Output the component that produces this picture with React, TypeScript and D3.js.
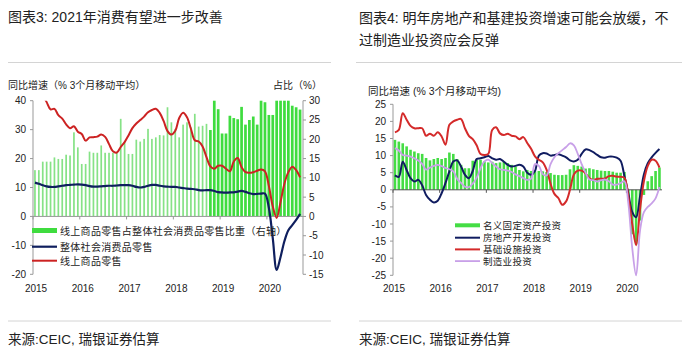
import React from "react";
import * as d3 from "d3";

// months Jan 2015 .. Sep 2020
const months = d3.timeMonth.range(new Date(2015, 0, 1), new Date(2020, 9, 1));
const yearLabels = ["2015", "2016", "2017", "2018", "2019", "2020"];

// chart 3: online share of total retail (%, right axis)
const onlineShare = [
  12.0, 12.0, 14.2, 14.2, 14.2, 15.3, 14.9, 14.9, 16.0, 15.8, 21.8, 17.9,
  13.6, 13.6, 16.8, 16.5, 16.5, 18.4, 16.5, 16.5, 16.5, 16.5, 25.3, 19.2,
  16.2, 16.2, 19.9, 19.4, 20.1, 22.7, 20.1, 20.5, 21.1, 21.0, 28.3, 24.4,
  22.7, 20.5, 23.8, 24.4, 23.1, 26.6, 23.3, 23.5, 24.0, 22.4, 30.0, 27.8,
  21.5, 21.5, 26.1, 25.5, 25.2, 28.4, 23.8, 25.0, 25.9, 23.8, 30.0, 29.6,
  26.3, 26.3, 30.0, 30.0, 30.0, 30.0, 28.7, 28.3, 27.7,
];
// total retail sales yoy, 3mma
const totalRetail = [
  11.7, 11.3, 10.8, 10.4, 10.2, 10.2, 10.4, 10.6, 10.8, 10.9, 11.0, 11.1,
  11.0, 10.8, 10.5, 10.3, 10.3, 10.4, 10.5, 10.6, 10.6, 10.7, 10.8, 10.8,
  10.8, 10.6, 10.2, 10.0, 10.2, 10.6, 10.9, 10.9, 10.6, 10.4, 10.3, 10.2,
  10.2, 10.0, 9.8, 9.6, 9.5, 9.4, 9.1, 9.0, 9.1, 9.1, 8.8, 8.4,
  8.3, 8.2, 8.3, 8.3, 8.6, 8.8, 8.5, 8.0, 7.7, 7.8, 7.9, 7.9,
  3.0, -7.5, -18.5, -14.0, -8.5, -4.8, -3.0, -1.2, 0.9,
];
// online retail yoy, 3mma
const onlineRetail = [
  48, 45, 42, 39.5, 37, 37.2, 35, 33.8, 31.8, 30.5, 31.2, 29.3,
  28.5, 26.2, 27.3, 27.4, 27.6, 28.3, 27.5, 25.0, 22.5, 22.1, 24.0, 25.7,
  28.0, 30.5, 32.1, 33.3, 34.5, 36.0, 36.8, 37.2, 35.8, 33.0, 29.5, 28.3,
  29.6, 34.0, 35.8, 34.3, 30.3, 26.3, 25.9, 24.2, 20.5, 17.3, 16.5, 17.5,
  17.5, 16.5, 15.6, 19.0, 20.2, 17.0, 15.3, 15.1, 15.3, 15.8, 16.2, 15.6,
  10.5, 3.5, -0.5, 5.0, 11.4, 15.3, 17.2, 16.0, 13.5,
];

// chart 4: investment yoy, 3mma
const faiNominal = [
  14.6, 14.1, 13.6, 12.7, 11.7, 11.2, 10.7, 10.5, 9.3, 8.6, 9.0, 9.3,
  9.0, 9.3, 10.9, 10.5, 9.0, 7.3, 6.3, 6.3, 8.5, 8.8, 8.8, 8.3,
  8.0, 8.2, 7.8, 8.0, 8.3, 7.8, 7.3, 6.8, 5.8, 5.4, 5.8, 5.5,
  5.4, 5.5, 5.4, 5.2, 4.9, 4.4, 4.3, 4.3, 4.4, 6.0, 7.2, 7.0,
  6.8, 6.2, 6.3, 6.0, 5.8, 5.6, 5.5, 5.5, 5.3, 5.0, 5.0, 5.2,
  -3, -13, -16, -9, -1.5, 2.5, 4.0, 5.5, 6.5,
];
const realEstate = [
  4.2, 3.8, 8.2, 5.8, 3.4, 2.4, 2.9, 1.3, -1.5, -2.9, -3.7, -3.2,
  -1.0, 2.0, 5.4, 8.3, 8.6, 6.8, 4.4, 3.4, 5.5, 9.0, 9.2, 9.5,
  9.9, 9.2, 8.8, 9.0, 8.2, 7.3, 6.8, 7.0, 7.3, 6.8, 5.0, 4.4,
  5.5, 10.0, 10.7, 10.6, 10.0, 10.2, 10.4, 10.0, 9.5, 8.6, 8.3, 8.8,
  10.5, 11.8, 11.6, 11.0, 10.2, 9.5, 9.4, 9.7, 9.7, 9.4, 8.5, 4.0,
  -1.0, -6.5, -8.0, -2.0, 4.5, 7.8, 9.5, 10.8, 11.9,
];
const infrastructure = [
  16.8, 17.5, 22.4, 20.5, 18.7, 18.0, 18.0, 18.0, 15.8, 16.4, 15.8, 16.8,
  15.6, 13.2, 19.0, 20.0, 20.5, 20.7, 18.0, 15.8, 14.8, 13.0, 10.5, 10.2,
  10.5, 17.5, 18.3, 16.5, 16.0, 16.4, 15.8, 15.6, 14.8, 15.4, 13.7, 12.0,
  9.8, 8.8, 8.0, 5.8, 1.8, -1.2, -2.4, -4.4, -3.4, 0.0, 4.5, 5.6,
  5.6, 4.8, 3.4, 2.9, 3.2, 3.2, 3.3, 4.0, 4.1, 3.8, 3.8, 3.5,
  -2.0, -10.0, -16.2, -5.8, 2.5, 7.0, 8.8, 8.5, 6.5,
];
const manufacturing = [
  12.2, 11.5, 10.2, 10.0, 9.7, 9.2, 8.6, 7.6, 5.9, 6.5, 7.0, 7.3,
  6.9, 6.4, 6.0, 5.4, 3.2, 2.0, 0.9, 0.8, 1.8, 3.5, 6.3, 8.3,
  8.8, 7.8, 6.8, 6.0, 5.8, 5.6, 5.2, 4.5, 4.0, 3.4, 2.9, 3.3,
  7.5, 7.0, 4.6, 4.2, 7.5, 9.5, 10.7, 11.6, 12.5, 13.6, 13.0, 10.5,
  7.5, 5.0, 3.0, 2.8, 2.4, 2.8, 3.0, 2.5, 1.5, 1.5, 2.0, 2.5,
  -4, -17, -25, -12, -6.5, -5, -4, -2.5, 0.8,
];

const leftTicks = [-20, -10, 0, 10, 20, 30, 40];
const shareTicks = [-15, -10, -5, 0, 5, 10, 15, 20, 25, 30];
const investTicks = [-25, -20, -15, -10, -5, 0, 5, 10, 15, 20, 25];

const FONT = "'Liberation Sans', Arial, 'Noto Sans CJK SC', sans-serif";
const TXT = "#222";
const AXIS = "#999";

const n = months.length;

function Consumption() {
  const x = d3.scaleLinear().domain([0, n]).range([33, 302]);
  const y = d3.scaleLinear().domain([-20, 40]).range([274.3, 100.7]);
  const yR = d3.scaleLinear().domain([-15, 30]).range([274.3, 100.7]);
  const line = d3
    .line<number>()
    .x((_, i) => x(i + 0.5))
    .y(d => y(d))
    .curve(d3.curveCatmullRom);

  return (
    <g fontFamily={FONT} fill={TXT}>
      <text x={8} y={22} fontSize={14}>图表3: 2021年消费有望进一步改善</text>
      <line x1={8} x2={331} y1={62.5} y2={62.5} stroke="#d4d4d4" />
      <text x={8} y={89} fontSize={10}>同比增速（% 3个月移动平均）</text>
      <text x={273} y={89} fontSize={10}>占比（%）</text>

      <clipPath id="clipL">
        <rect x={33} y={y(40)} width={270} height={y(-20) - y(40)} />
      </clipPath>

      {onlineShare.map((v, i) => {
        const w = i < 45 ? 1.7 : 2.7;
        return (
          <rect
            key={i}
            x={x(i + 0.5) - w / 2}
            y={yR(v)}
            width={w}
            height={yR(0) - yR(v)}
            fill={i < 45 ? "#86e286" : "#3fdc3f"}
          />
        );
      })}

      {/* axes */}
      <line x1={33} x2={33} y1={y(40)} y2={y(-20)} stroke={AXIS} />
      <line x1={303} x2={303} y1={y(40)} y2={y(-20)} stroke={AXIS} />
      <line x1={33} x2={303} y1={y(0)} y2={y(0)} stroke={AXIS} />
      {leftTicks.map(t => (
        <g key={t}>
          <line x1={30} x2={33} y1={y(t)} y2={y(t)} stroke={AXIS} />
          <text x={26} y={y(t)} dy="0.35em" fontSize={10} textAnchor="end">{t}</text>
        </g>
      ))}
      {shareTicks.map(t => (
        <g key={t}>
          <line x1={303} x2={306} y1={yR(t)} y2={yR(t)} stroke={AXIS} />
          <text x={309} y={yR(t)} dy="0.35em" fontSize={10}>{t}</text>
        </g>
      ))}
      {yearLabels.map((yr, k) => (
        <g key={yr}>
          <line x1={x(12 * k)} x2={x(12 * k)} y1={y(0)} y2={y(0) + 3} stroke={AXIS} />
          <text x={x(12 * k) + 3} y={292} fontSize={10} textAnchor="middle">{yr}</text>
        </g>
      ))}

      <g clipPath="url(#clipL)" fill="none">
        <path d={line(totalRetail) ?? ""} stroke="#0f1f5e" strokeWidth={2.2} />
        <path d={line(onlineRetail) ?? ""} stroke="#cc2222" strokeWidth={2} />
      </g>

      {/* legend */}
      <rect x={32} y={228} width={25} height={5} fill="#3fdc3f" />
      <text x={60} y={235} fontSize={10} letterSpacing={0.3}>线上商品零售占整体社会消费品零售比重（右轴）</text>
      <line x1={32} x2={57} y1={246.7} y2={246.7} stroke="#0f1f5e" strokeWidth={2.2} />
      <text x={60} y={250.5} fontSize={10} letterSpacing={0.3}>整体社会消费品零售</text>
      <line x1={32} x2={57} y1={260.7} y2={260.7} stroke="#cc2222" strokeWidth={2} />
      <text x={60} y={264.5} fontSize={10} letterSpacing={0.3}>线上商品零售</text>

      <line x1={8} x2={331} y1={321} y2={321} stroke="#d4d4d4" />
      <text x={8} y={344} fontSize={13.5}>来源:CEIC, 瑞银证券估算</text>
    </g>
  );
}

function Investment() {
  const x = d3.scaleLinear().domain([0, n]).range([393, 661.4]);
  const y = d3.scaleLinear().domain([-25, 25]).range([275.3, 104.3]);
  const line = d3
    .line<number>()
    .x((_, i) => x(i + 0.5))
    .y(d => y(d))
    .curve(d3.curveCatmullRom);

  const series = [
    { name: "房地产开发投资", data: realEstate, color: "#101c60", w: 2 },
    { name: "基础设施投资", data: infrastructure, color: "#d42a2a", w: 2 },
    { name: "制造业投资", data: manufacturing, color: "#c8a0e8", w: 1.8 },
  ];

  return (
    <g fontFamily={FONT} fill={TXT}>
      <text x={359} y={23} fontSize={14}>图表4: 明年房地产和基建投资增速可能会放缓，不</text>
      <text x={359} y={45} fontSize={14}>过制造业投资应会反弹</text>
      <line x1={356} x2={682} y1={62.5} y2={62.5} stroke="#d4d4d4" />
      <text x={368} y={94.5} fontSize={10.5}>同比增速 (% 3个月移动平均)</text>

      {faiNominal.map((v, i) => (
        <rect
          key={i}
          x={x(i + 0.5) - 1.3}
          y={Math.min(y(v), y(0))}
          width={2.6}
          height={Math.abs(y(0) - y(v))}
          fill="#44dd44"
        />
      ))}

      <line x1={393} x2={393} y1={y(25)} y2={y(-25)} stroke={AXIS} />
      <line x1={393} x2={662} y1={y(0)} y2={y(0)} stroke="#555" />
      {investTicks.map(t => (
        <g key={t}>
          <line x1={390} x2={393} y1={y(t)} y2={y(t)} stroke={AXIS} />
          <text x={386} y={y(t)} dy="0.35em" fontSize={10} textAnchor="end">{t}</text>
        </g>
      ))}
      {yearLabels.map((yr, k) => (
        <g key={yr}>
          <line x1={x(12 * k)} x2={x(12 * k)} y1={y(0)} y2={y(0) + 3} stroke="#555" />
          <text x={x(12 * k) + 1} y={292} fontSize={10} textAnchor="middle">{yr}</text>
        </g>
      ))}

      <g fill="none">
        {series.map(s => (
          <path key={s.name} d={line(s.data) ?? ""} stroke={s.color} strokeWidth={s.w} />
        ))}
      </g>

      {/* legend */}
      <rect x={455} y={223.3} width={25} height={4} fill="#44dd44" />
      <text x={483} y={229} fontSize={9.5} letterSpacing={0.3}>名义固定资产投资</text>
      {series.map((s, k) => {
        const ly = 237.7 + k * 11.7;
        return (
          <g key={s.name}>
            <line x1={455} x2={480} y1={ly} y2={ly} stroke={s.color} strokeWidth={s.w} />
            <text x={483} y={ly + 3.6} fontSize={9.5} letterSpacing={0.3}>{s.name}</text>
          </g>
        );
      })}

      <line x1={359} x2={682} y1={321} y2={321} stroke="#d4d4d4" />
      <text x={359} y={344} fontSize={13.5}>来源:CEIC, 瑞银证券估算</text>
    </g>
  );
}

export default function App() {
  return (
    <div style={{ position: "absolute", left: 0, top: 0 }}>
      <svg width={696} height={353} style={{ display: "block", background: "#fff" }}>
        <Consumption />
        <Investment />
      </svg>
    </div>
  );
}
